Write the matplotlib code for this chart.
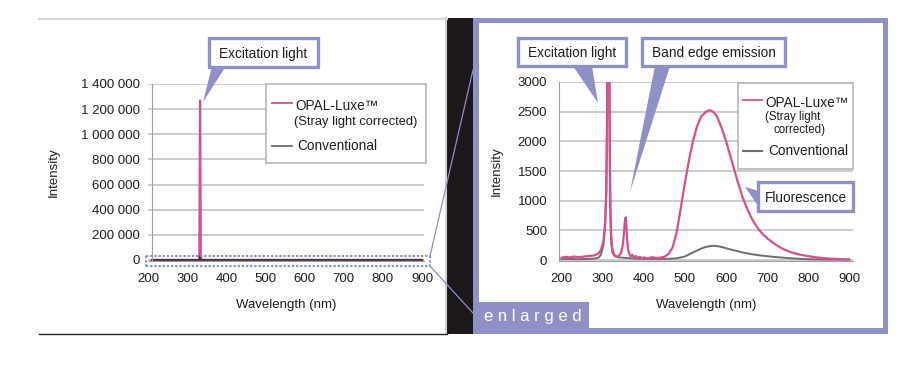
import numpy as np
import matplotlib.pyplot as plt
from matplotlib.patches import Rectangle, Polygon
from matplotlib.ticker import FuncFormatter

plt.rcParams['font.family'] = ['Liberation Sans', 'DejaVu Sans']

# ---- data: overview (left) ----
overview_nm = [210, 331, 333, 335, 900]
overview_opal = [0, 0, 1270000, 0, 0]
overview_conv = [0, 0, 30000, 0, 0]
overview_ticks = [0, 200000, 400000, 600000, 800000, 1000000, 1200000, 1400000]

# ---- data: enlarged (right) ----
opal_nm = [200, 210, 220, 230, 240, 250, 260, 270, 280, 290, 296, 302, 306, 309,
           311, 313, 314, 315, 316, 317, 319, 321, 324, 328, 332, 336, 340, 345,
           349, 352, 354, 356, 357, 358, 360, 362, 365, 368, 372, 376, 380, 385,
           390, 395, 400, 410, 420, 430, 440, 450, 460, 470, 480, 490, 500, 510,
           520, 530, 540, 550, 555, 560, 565, 570, 575, 580, 590, 600, 610, 620,
           630, 640, 650, 660, 670, 680, 690, 700, 710, 720, 730, 740, 750, 760,
           780, 800, 820, 840, 860, 880, 900]
opal_int = [40, 55, 45, 60, 50, 55, 65, 70, 80, 110, 170, 320, 600, 1200,
            2500, 6000, 9000, 9000, 6000, 2500, 900, 400, 180, 90, 70, 55, 80, 120,
            250, 450, 650, 720, 690, 560, 320, 180, 100, 60, 90, 45, 70, 40,
            55, 35, 45, 30, 50, 35, 40, 55, 100, 210, 460, 870, 1290, 1680,
            2010, 2260, 2420, 2490, 2510, 2525, 2515, 2490, 2450, 2390, 2220, 2010, 1770, 1530,
            1290, 1070, 890, 740, 615, 515, 435, 370, 315, 265, 222, 185, 155, 128,
            92, 66, 46, 32, 22, 15, 11]

conv_nm = [200, 220, 240, 260, 280, 290, 296, 302, 306, 309, 311, 313, 314, 315,
           316, 317, 319, 321, 324, 328, 332, 340, 350, 360, 370, 380, 400, 420,
           440, 460, 480, 500, 520, 540, 550, 560, 570, 580, 590, 600, 620, 640,
           660, 680, 700, 720, 740, 760, 780, 800, 840, 900]
conv_int = [15, 20, 15, 20, 25, 40, 90, 250, 550, 1100, 2400, 6000, 9000, 9000,
            5000, 2000, 700, 280, 130, 80, 60, 45, 40, 35, 30, 25, 20, 20,
            20, 22, 30, 60, 130, 195, 220, 235, 240, 235, 220, 200, 165, 130,
            102, 82, 66, 52, 40, 30, 22, 15, 10, 8]
enlarged_ticks = [0, 500, 1000, 1500, 2000, 2500, 3000]
wl_ticks = [200, 300, 400, 500, 600, 700, 800, 900]

PINK = '#d6508e'
GREY = '#6e6e6e'
PURPLE = '#8e90c6'
GRID = '#c4c4c4'
TXT = '#1e1e1e'

W, H = 913, 374
fig = plt.figure(figsize=(W / 100, H / 100), dpi=100)


def px_axes(x0, y0, x1, y1, **kw):
    return fig.add_axes([x0 / W, 1 - y1 / H, (x1 - x0) / W, (y1 - y0) / H], **kw)


# background panels
bg = px_axes(0, 0, W, H, zorder=0)
bg.set_xlim(0, W); bg.set_ylim(H, 0); bg.axis('off')
bg.add_patch(Rectangle((39, 18), 408, 316, fc='white', ec='none'))
bg.plot([39, 447], [19, 19], color='#d4d4d4', lw=1.5)
bg.plot([446, 446], [18, 333], color='#d4d4d4', lw=1.5)
bg.plot([39, 447], [333.5, 333.5], color='#222222', lw=1)
bg.add_patch(Rectangle((447, 18), 26, 316, fc='#1c1719', ec='none'))
bg.add_patch(Rectangle((473, 18), 415, 316, fc=PURPLE, ec='none'))
bg.add_patch(Rectangle((479, 23), 404, 305, fc='white', ec='none'))


def style_axes(ax):
    ax.set_facecolor('none')
    ax.grid(axis='y', color=GRID, lw=1.2)
    ax.set_axisbelow(True)
    for s in ['top', 'right']:
        ax.spines[s].set_visible(False)
    ax.spines['left'].set_color('#a0a0a0')
    ax.spines['bottom'].set_color('#a0a0a0')
    ax.tick_params(length=0, labelsize=9.5, labelcolor=TXT)
    ax.tick_params(axis='y', pad=8.5)
    ax.tick_params(axis='x', pad=9)
    ax.set_xticks(wl_ticks)
    ax.set_xlabel('Wavelength (nm)', fontsize=9.5, color=TXT, labelpad=10)


# left: overview
ax1 = px_axes(148, 84, 424, 261, zorder=1)
style_axes(ax1)
ax1.plot(overview_nm, overview_opal, color=PINK, lw=1.6)
ax1.plot(overview_nm, overview_conv, color='#4a3a40', lw=1.6)
ax1.set_xlim(200, 905)
ax1.set_ylim(-8000, 1400000)
ax1.spines['left'].set_position(('data', 210))
ax1.set_yticks(overview_ticks)
ax1.yaxis.set_major_formatter(FuncFormatter(lambda v, p: format(int(v), ',').replace(',', ' ')))
ax1.set_ylabel('Intensity', fontsize=9.5, color=TXT)
ax1.yaxis.set_label_coords((60 - 148) / 276, 0.5)

# right: enlarged
ax2 = px_axes(559, 82, 853, 261, zorder=1)
style_axes(ax2)
ax2.plot(conv_nm, conv_int, color=GREY, lw=1.4)
ax2.plot(opal_nm, opal_int, color=PINK, lw=1.6)
ax2.set_xlim(194, 909)
ax2.set_ylim(-15, 3000)
ax2.set_yticks(enlarged_ticks)
ax2.set_ylabel('Intensity', fontsize=9.5, color=TXT)
ax2.yaxis.set_label_coords((503 - 559) / 294, 0.5)

# overlay decorations (pixel coordinates)
ov = px_axes(0, 0, W, H, zorder=5)
ov.set_xlim(0, W); ov.set_ylim(H, 0); ov.axis('off')


def legend_box(x0, y0, x1, y1):
    ov.add_patch(Rectangle((x0, y0), x1 - x0, y1 - y0, fc='white', ec='#b8b8b8', lw=1.2))


legend_box(266, 84, 426, 163)
ov.plot([272, 292], [103, 103], color=PINK, lw=1.3)
ov.text(295, 106, 'OPAL-Luxe™', fontsize=9.8, color=TXT, va='center')
ov.text(294, 122, '(Stray light corrected)', fontsize=9.3, color=TXT, va='center')
ov.plot([272, 292], [146, 146], color=GREY, lw=1.3)
ov.text(297, 146, 'Conventional', fontsize=9.8, color=TXT, va='center')

legend_box(738, 83, 853, 169)
ov.plot([743, 762], [100, 100], color=PINK, lw=1.3)
ov.text(765, 103, 'OPAL-Luxe™', fontsize=9.8, color=TXT, va='center')
ov.text(765, 117, '(Stray light', fontsize=8.3, color=TXT, va='center')
ov.text(774, 130, 'corrected)', fontsize=8.3, color=TXT, va='center')
ov.plot([743, 762], [151, 151], color=GREY, lw=1.5)
ov.text(768, 151, 'Conventional', fontsize=9.8, color=TXT, va='center')


def callout(x0, y0, x1, y1, label, tri):
    ov.add_patch(Polygon(tri, closed=True, fc=PURPLE, ec='none'))
    ov.add_patch(Rectangle((x0, y0), x1 - x0, y1 - y0, fc='white', ec=PURPLE, lw=2.4))
    ov.text((x0 + x1) / 2, (y0 + y1) / 2 + 1, label, fontsize=9.8, color=TXT,
            ha='center', va='center')


callout(209, 38, 318, 67, 'Excitation light', [(212, 66), (226, 66), (203, 102)])
callout(518, 38, 626, 66, 'Excitation light', [(573, 66), (592, 66), (598, 103)])
callout(642, 38, 785, 66, 'Band edge emission', [(655, 66), (670, 66), (630, 192)])
callout(758, 182, 853, 211, 'Fluorescence', [(745, 187), (759, 191), (759, 207)])

# dotted zoom rectangle and connector lines
dot = dict(color='#8a8fd6', lw=1.5, ls=(0, (1.1, 0.9)))
ov.plot([146, 430], [256, 256], **dot)
ov.plot([146, 430], [266, 266], **dot)
ov.plot([146, 146], [256, 266], **dot)
ov.plot([430, 430], [256, 266], **dot)
ov.plot([430, 473], [256, 70], color='#8a8fd0', lw=0.9)
ov.plot([430, 473], [266, 313], color='#8a8fd0', lw=0.9)

# "enlarged" tab
ov.add_patch(Rectangle((473, 302), 116, 32, fc=PURPLE, ec='none'))
ov.text(484, 317, 'e n l a r g e d', fontsize=12, color='white', va='center')

fig.savefig('out.png', dpi=100, facecolor='white')
